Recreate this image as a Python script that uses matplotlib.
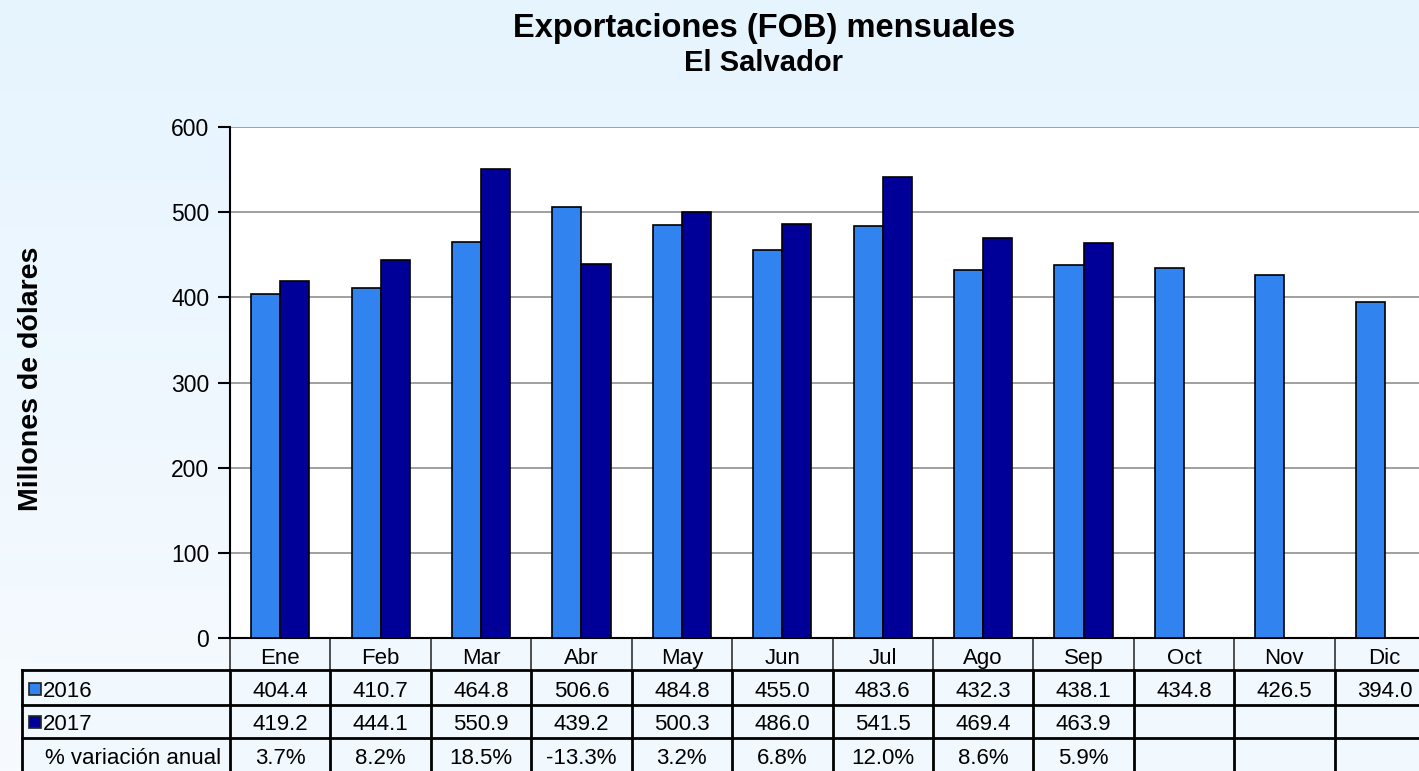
import numpy as np
import matplotlib
matplotlib.use("Agg")
from matplotlib import pyplot as plt
from matplotlib import transforms
from matplotlib.patches import Rectangle

plt.rcParams['font.family'] = ['Liberation Sans', 'DejaVu Sans']

meses = ['Ene', 'Feb', 'Mar', 'Abr', 'May', 'Jun', 'Jul', 'Ago', 'Sep', 'Oct', 'Nov', 'Dic']
exp_2016 = [404.4, 410.7, 464.8, 506.6, 484.8, 455.0, 483.6, 432.3, 438.1, 434.8, 426.5, 394.0]
exp_2017 = [419.2, 444.1, 550.9, 439.2, 500.3, 486.0, 541.5, 469.4, 463.9]
variacion = ['3.7%', '8.2%', '18.5%', '-13.3%', '3.2%', '6.8%', '12.0%', '8.6%', '5.9%']

c2016 = '#3183F0'
c2017 = '#000099'
fs = 16

W, H = 1419, 771
fig = plt.figure(figsize=(W / 100, H / 100), dpi=100)

# fondo degradado
bg = fig.add_axes([0, 0, 1, 1], zorder=-10)
grad = np.linspace(0, 1, 256).reshape(-1, 1)
top = np.array([230, 244, 254]) / 255
bot = np.array([247, 251, 255]) / 255
img = top + (bot - top) * grad[:, :, None]
bg.imshow(img, aspect='auto', extent=[0, 1, 0, 1])
bg.axis('off')

def fy(py):
    return 1 - py / H

ax = fig.add_axes([230 / W, fy(638), 1205 / W, 511 / H])
ax.set_facecolor('white')
x = np.arange(len(meses))
w = 0.29
ax.bar(x[:len(exp_2016)] - w / 2, exp_2016, w, color=c2016, edgecolor='black', linewidth=1.2, zorder=3)
ax.bar(x[:len(exp_2017)] + w / 2, exp_2017, w, color=c2017, edgecolor='black', linewidth=1.2, zorder=3)
ax.set_xlim(-0.5, 11.5)
ax.set_ylim(0, 600)
ax.set_yticks(range(0, 601, 100))
ax.yaxis.grid(True, color='#999999', linewidth=1.3, zorder=0)
ax.set_xticks([])
ax.tick_params(axis='y', length=9, width=1.5, labelsize=16.5, pad=6, direction='out')
for s in ['top', 'right']:
    ax.spines[s].set_visible(False)
ax.spines['left'].set_linewidth(1.5)
ax.spines['bottom'].set_linewidth(1.5)
fig.text(31 / W, fy(379), 'Millones de dólares', rotation=90, ha='center', va='center',
         fontsize=20.5, fontweight='bold')

# tabla de datos
tr = transforms.blended_transform_factory(ax.transData, fig.transFigure)
x_left = -0.5 - (230 - 22) / 100.4
x_right = 12.5
rows = [638, 670, 705, 738, 775]
cell = '#f1f8fe'
ax.add_patch(Rectangle((-0.5, fy(670)), 13, fy(638) - fy(670), transform=tr,
                       facecolor=cell, edgecolor='none', clip_on=False, zorder=0))
ax.add_patch(Rectangle((x_left, fy(775)), x_right - x_left, fy(670) - fy(775), transform=tr,
                       facecolor=cell, edgecolor='none', clip_on=False, zorder=0))
for k in range(13):
    ax.plot([k - 0.5, k - 0.5], [fy(638), fy(670)], transform=tr, color='#333333',
            lw=1.2, clip_on=False)
    ax.plot([k - 0.5, k - 0.5], [fy(670), fy(775)], transform=tr, color='black',
            lw=2, clip_on=False)
ax.plot([x_left, x_left], [fy(670), fy(775)], transform=tr, color='black', lw=2, clip_on=False)
for r in rows[1:4]:
    ax.plot([x_left, x_right], [fy(r), fy(r)], transform=tr, color='black', lw=2, clip_on=False)

def mid(i):
    return fy((rows[i] + rows[i + 1]) / 2)

for i, m in enumerate(meses):
    ax.text(i, fy(656), m, transform=tr, ha='center', va='center_baseline', fontsize=fs)
for i, v in enumerate(exp_2016):
    ax.text(i, fy(689), f'{v:.1f}', transform=tr, ha='center', va='center_baseline', fontsize=fs)
for i, v in enumerate(exp_2017):
    ax.text(i, fy(722), f'{v:.1f}', transform=tr, ha='center', va='center_baseline', fontsize=fs)
for i, v in enumerate(variacion):
    ax.text(i, fy(756), v, transform=tr, ha='center', va='center_baseline', fontsize=fs)

# etiquetas de fila con cuadros de leyenda
for lab, col, yc in [('2016', c2016, 689), ('2017', c2017, 722)]:
    fig.add_artist(Rectangle((29 / W, fy(yc + 6)), 12 / W, 12 / H, facecolor=col,
                             edgecolor='#222222', linewidth=1.2, transform=fig.transFigure))
    fig.text(43 / W, fy(yc), lab, ha='left', va='center_baseline', fontsize=fs)
fig.text(45 / W, fy(756), '% variación anual', ha='left', va='center_baseline', fontsize=fs)

fig.text(764 / W, fy(29), 'Exportaciones (FOB) mensuales', ha='center', va='center',
         fontsize=23.5, fontweight='bold')
fig.text(764 / W, fy(63), 'El Salvador', ha='center', va='center', fontsize=21, fontweight='bold')

fig.savefig('out.png', dpi=100)
